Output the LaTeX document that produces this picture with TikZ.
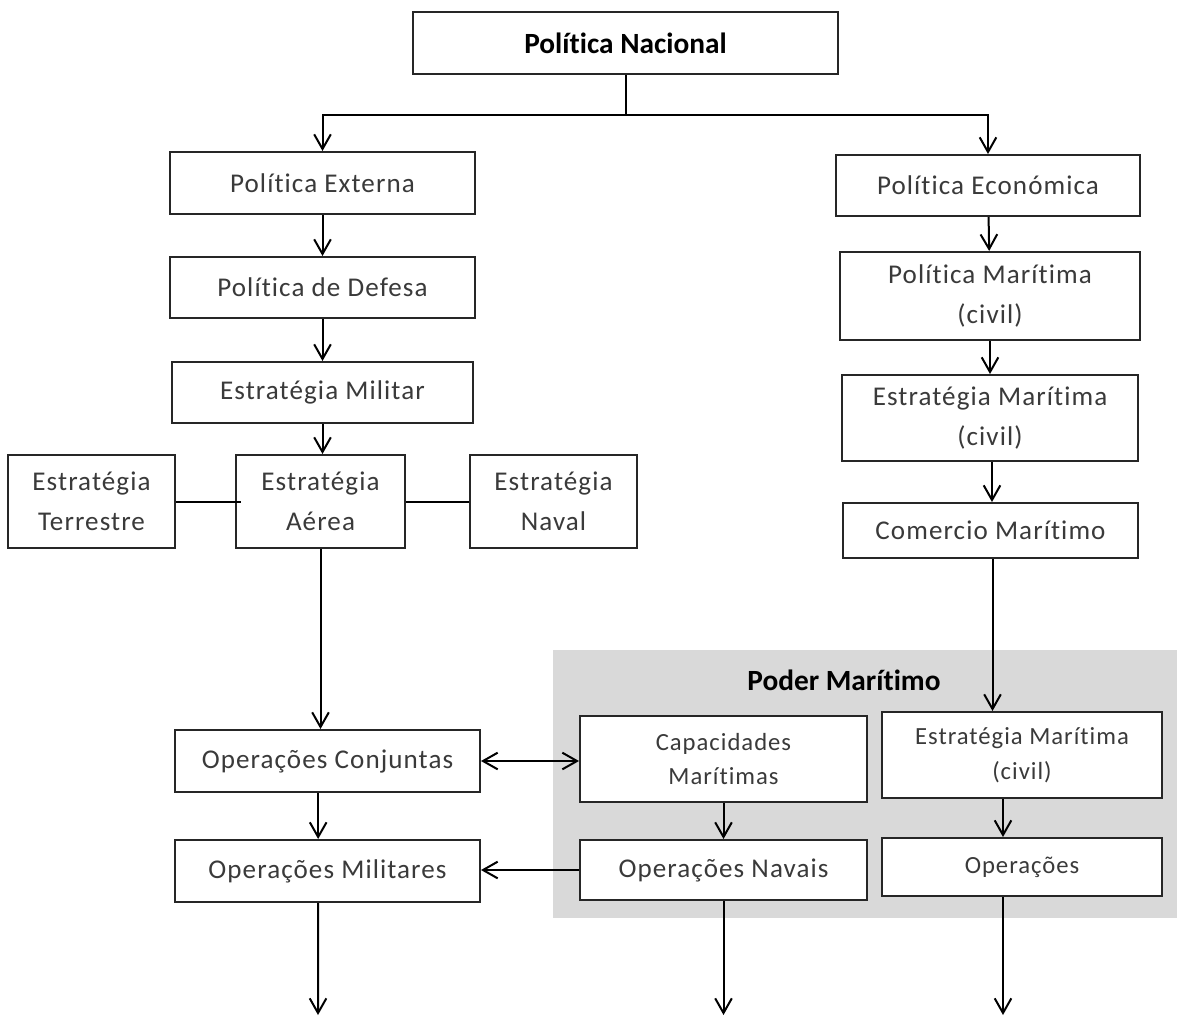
\documentclass[tikz,border=0pt]{standalone}
\usepackage{fontspec}
\setmainfont{Carlito}[Ligatures={NoCommon},RawFeature={-liga}]
\usetikzlibrary{arrows.meta,calc}
\definecolor{txt}{HTML}{3A3A3A}
\definecolor{bord}{HTML}{262626}
\definecolor{grayreg}{HTML}{D9D9D9}
\begin{document}
\begin{tikzpicture}[x=0.75pt,y=-0.75pt,
  box/.style={draw=bord,line width=1.5pt,fill=white,align=center,inner sep=0pt,text=txt,
    font=\fontsize{20.3}{30}\selectfont\addfontfeature{LetterSpace=4}},
  sbox/.style={box,font=\fontsize{18.5}{26}\selectfont\addfontfeature{LetterSpace=4}},
  arr/.style={draw=black,line width=1.5pt,-{Straight Barb[length=11pt,width=12.5pt,line width=1.5pt]}},
  dbl/.style={draw=black,line width=1.5pt,{Straight Barb[length=11pt,width=12.5pt,line width=1.5pt]}-{Straight Barb[length=11pt,width=12.5pt,line width=1.5pt]}},
  ln/.style={draw=black,line width=1.5pt},
  titl/.style={font=\fontsize{22}{26}\selectfont\bfseries,text=black,inner sep=0pt}]
\useasboundingbox (0,0) rectangle (1177,1018);
% grey region
\fill[grayreg] (553,650) rectangle (1177,918);
\node[titl] (pmt) at (844,680) {Poder Marítimo};
% nodes
\node[box,minimum width=318.75pt,minimum height=46.5pt,
  font=\fontsize{22}{26}\selectfont\bfseries,text=black] (pn) at (625.5,43) {Política Nacional};
\node[box,minimum width=228.75pt,minimum height=46.5pt] (pe) at (322.5,183) {Política Externa};
\node[box,minimum width=228pt,minimum height=45.75pt] (pec) at (988,185.5) {Política Económica};
\node[box,minimum width=228.75pt,minimum height=45.75pt] (pd) at (322.5,287.5) {Política de Defesa};
\node[box,minimum width=225.75pt,minimum height=45.75pt] (em) at (322.5,392.5) {Estratégia Militar};
\node[box,minimum width=125.25pt,minimum height=69.75pt] (et) at (91.5,501.5) {Estratégia\\Terrestre};
\node[box,minimum width=126.75pt,minimum height=69.75pt] (ea) at (320.5,501.5) {Estratégia\\Aérea};
\node[box,minimum width=125.25pt,minimum height=69.75pt] (en) at (553.5,501.5) {Estratégia\\Naval};
\node[box,minimum width=225pt,minimum height=66pt] (pm) at (990,296) {Política Marítima\\(civil)};
\node[box,minimum width=222pt,minimum height=64.5pt] (emc) at (990,418) {Estratégia Marítima\\(civil)};
\node[box,minimum width=221.25pt,minimum height=41.25pt] (cm) at (990.5,530.5) {Comercio Marítimo};
\node[box,minimum width=228.75pt,minimum height=46.5pt] (oc) at (327.5,761) {Operações Conjuntas};
\node[box,minimum width=228.75pt,minimum height=46.5pt] (om) at (327.5,871) {Operações Militares};
\node[sbox,minimum width=215.25pt,minimum height=64.5pt] (cap) at (723.5,759) {Capacidades\\Marítimas};
\node[sbox,minimum width=210pt,minimum height=64.5pt] (em2) at (1022,755) {Estratégia Marítima\\(civil)};
\node[box,minimum width=215.25pt,minimum height=45pt] (on) at (723.5,870) {Operações Navais};
\node[sbox,minimum width=210pt,minimum height=43.5pt] (op) at (1022,867) {\raisebox{2pt}{Operações}};
% connectors
\coordinate (j) at (625.5,115);
\draw[ln] (pn.south) -- (j);
\draw[arr] (j) -| (pe.north);
\draw[arr] (j) -| (pec.north);
\draw[arr] (pe) -- (pd);
\draw[arr] (pd) -- (em);
\draw[arr] (em.south) -- (em.south |- ea.north);
\draw[ln] (et.east) -- ([xshift=4.5pt]ea.west);
\draw[ln] (ea.east) -- (en.west);
\draw[arr] (ea.south) -- (ea.south |- oc.north);
\draw[arr] ([xshift=-7pt]oc.south) -- ([xshift=-7pt]om.north);
\draw[dbl] (oc.east) -- (oc.east -| cap.west);
\draw[arr] (on.west) -- (on.west -| om.east);
\draw[arr] (cap) -- (on);
\draw[arr] (pec) -- (pm);
\draw[arr] (pm) -- (emc);
\draw[arr] ([xshift=1.5pt]emc.south) -- ([xshift=1.5pt]emc.south |- cm.north);
\draw[arr] ([xshift=1.5pt]cm.south) -- ([xshift=1.5pt]cm.south |- em2.north);
\draw[arr] ([xshift=-14.25pt]em2.south) -- ([xshift=-14.25pt]op.north);
\coordinate (b1) at (318,1015);
\coordinate (b2) at (730,1015);
\coordinate (b3) at (1003,1015);
\draw[arr] ([xshift=-7pt]om.south) -- (b1);
\draw[arr] (on.south) -- (on.south |- b2);
\draw[arr] ([xshift=-14.25pt]op.south) -- (b3);
\end{tikzpicture}
\end{document}
